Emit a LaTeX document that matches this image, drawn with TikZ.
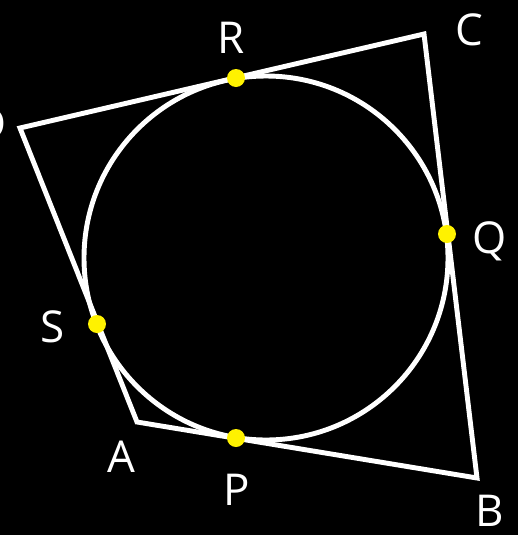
\documentclass[tikz,border=0pt]{standalone}
\usepackage{fontspec}
\setmainfont{Open Sans}
\begin{document}
\begin{tikzpicture}[x=0.02cm,y=-0.02cm,
  edge/.style={draw=white,line width=2.8pt,line join=miter},
  lab/.style={text=white,font=\fontsize{25}{30}\selectfont,inner sep=0pt},
  tdot/.style={circle,fill=yellow,inner sep=0pt,minimum size=0.36cm}]
\fill[black] (0,0) rectangle (518,535);
\useasboundingbox (0,0) rectangle (518,535);
\coordinate (D) at (20,128);
\coordinate (C) at (424,34);
\coordinate (B) at (477,478);
\coordinate (A) at (137,422);
\coordinate (O) at (266,258);
\draw[edge] (D) -- (C) -- (B) -- (A) -- cycle;
\draw[edge] (O) circle[radius=182*0.02cm];
\node[tdot] (R) at (236,78) {};
\node[tdot] (Q) at (447,234) {};
\node[tdot] (P) at (236,438) {};
\node[tdot] (S) at (97,324) {};
\node[lab] (lR) at (231,38) {R};
\node[lab] (lC) at (469,30) {C};
\node[lab] (lQ) at (490,241) {Q};
\node[lab] (lS) at (53,327) {S};
\node[lab] (lA) at (121,457) {A};
\node[lab] (lP) at (237,490) {P};
\node[lab] (lB) at (490,511) {B};
\node[lab] (lD) at (-9,124) {D};
\end{tikzpicture}
\end{document}
